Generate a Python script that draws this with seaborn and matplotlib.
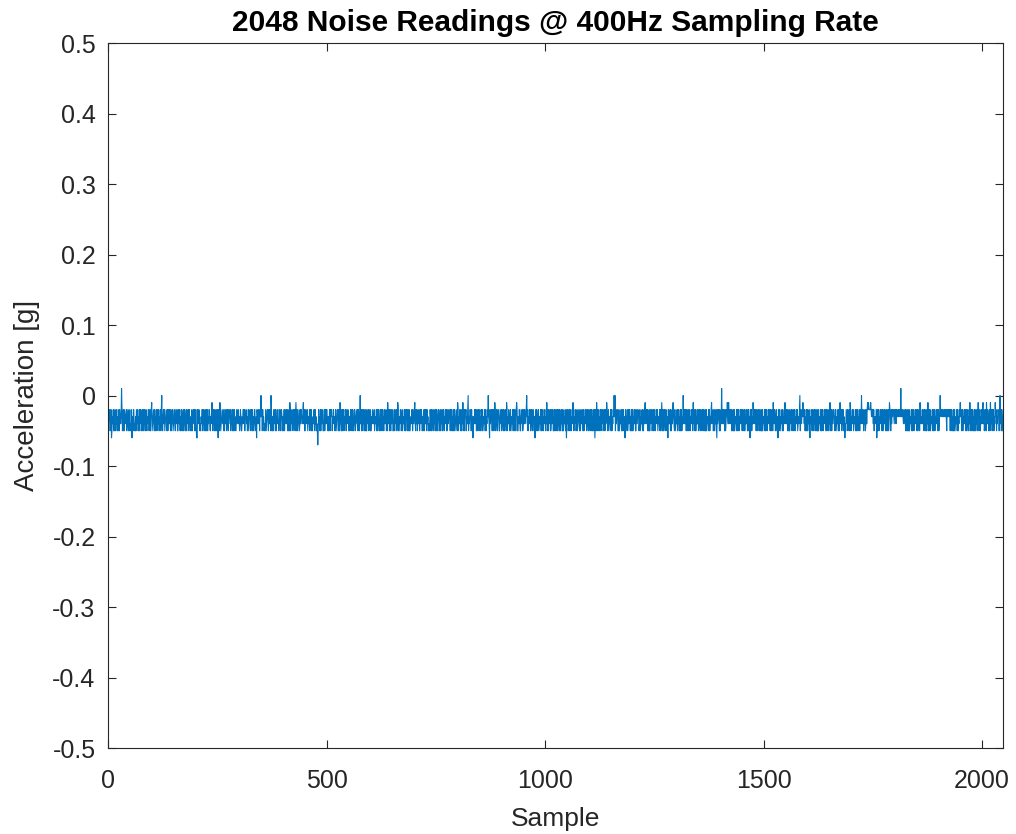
import numpy as np
import pandas as pd
import matplotlib
matplotlib.use("Agg")
import matplotlib.pyplot as plt
import seaborn as sns

# Quantised readings, one character per sample.
# code k -> acceleration (1 - k) / 100 g   ('0' = 0.01, '4' = -0.03, '8' = -0.07)
READING_CODES = [
    "35643463 76453656 36453646 53634540 36536634 54363456 34656357 46336564",
    "63453646 35346536 43635463 56453364 36432654 35636453 64353645 36315643",
    "53654356 36435346 36453654 35634536 64353646 35643653 46536345 36354656",
    "36443536 53677345 34656453 36354636 43636453 35645324 63536463 46347356",
    "23654354 36634536 53463345 36453636 43645634 53354653 46645335 36443546",
    "53654346 35364653 36547345 53463414 36354656 53654346 35346136 46634536",
    "36453356 53463346 46536345 35364636 23645346 53536424 63654365 35344532",
    "53663453 36545363 53656453 36354656 86354636 35436653 64353356 46536343",
    "36453546 53654346 35624563 63536453 46345346 64536436 35653465 34536346",
    "41536346 35364636 63453653 36645345 53654536 36435653 64363546 35453646",
    "24536346 35436653 63453652 36645346 53654536 36434636 53665453 36345325",
    "63536453 36435346 46536353 36354656 53463653 36453636 35643465 36453653",
    "36453536 63453346 35364636 53654356 23645346 36452653 63436453 16453346",
    "36475453 53463653 36436453 63654536 36453414 57354346 35364236 53463346",
    "63453653 36364536 23645346 53654536 36434632 36645346 63453653 35345314",
    "36453536 53463346 47536346 53654536 36436453 36452653 63453653 35364636",
    "53463653 36364536 63654536 47353653 36436453 23645346 53654356 36453346",
    "36453536 53463346 35364636 53753624 36436453 63453653 36354236 53654536",
    "36453414 16354346 63654536 36436457 36453653 53364636 36453536 63453346",
    "53654536 36453245 35364636 63453653 36436453 53654536 36424636 53463346",
    "47354536 36453245 63654536 35364636 36451453 53463653 36436453 53625346",
    "36453536 53463346 35364636 63654536 36453254 36436453 57354346 36450453",
    "53463653 42452453 35364636 63654536 36436453 53463346 36453536 63364736",
    "36452453 53463346 35364636 63654536 36436453 53463653 36245346 53654736",
    "53654536 36453245 35364636 63453653 36436453 53654531 63453424 35364636",
    "36453574 53463346 35364636 63654536 36436453 53463653 36452653 63453346",
    "53654536 36424536 35364575 63453653 36236453 53654536 36436453 63451453",
    "36453653 53232333 32343435 36454537 36436453 53463653 35364636 53652346",
    "35343345 34353443 34343404 34345345 36364636 63654536 36436453 53463653",
    "36245453 53463346 36452653 63654536 36436453 53463653 13434334 43434346",
    "34343436 35364636 63654536 36453424 36436453 53463653 36452653 63364636",
    "36453632 36436453 53253653 36245346 53624536 35364524 36453346 41536346",
]

TITLE = "2048 Noise Readings @ 400Hz Sampling Rate"
X_LABEL = "Sample"
Y_LABEL = "Acceleration [g]"
X_TICKS = [0, 500, 1000, 1500, 2000]
Y_TICKS = [0.5, 0.4, 0.3, 0.2, 0.1, 0.0, -0.1, -0.2, -0.3, -0.4, -0.5]
Y_TICK_LABELS = ["0.5", "0.4", "0.3", "0.2", "0.1", "0", "-0.1", "-0.2", "-0.3", "-0.4", "-0.5"]

codes = "".join("".join(line.split()) for line in READING_CODES)
acceleration = np.array([(1 - int(c)) / 100.0 for c in codes])
sample = np.arange(len(acceleration))
df = pd.DataFrame({"Sample": sample, "Acceleration": acceleration})

sns.set_theme(style="white")
plt.rcParams["font.family"] = ["Liberation Sans", "DejaVu Sans"]
plt.rcParams["axes.unicode_minus"] = False

fig = plt.figure(figsize=(10.16, 8.34), dpi=100)
ax = fig.add_axes([0.1063, 0.1031, 0.8810, 0.8453])

sns.lineplot(data=df, x="Sample", y="Acceleration", ax=ax,
             color="#0072BD", linewidth=0.8, estimator=None)

ax.set_xlim(0, 2048)
ax.set_ylim(-0.5, 0.5)
ax.set_xticks(X_TICKS)
ax.set_xticklabels([str(t) for t in X_TICKS])
ax.set_yticks(Y_TICKS)
ax.set_yticklabels(Y_TICK_LABELS)

dark = "#262626"
for s in ax.spines.values():
    s.set_visible(True)
    s.set_color(dark)
    s.set_linewidth(0.8)
ax.tick_params(axis="both", which="major", direction="in", length=6, width=0.8,
               color=dark, labelcolor=dark, labelsize=18,
               top=True, right=True, bottom=True, left=True)
ax.tick_params(axis="x", pad=15)
ax.tick_params(axis="y", pad=9)

ax.set_xlabel(X_LABEL, fontsize=19, color=dark, labelpad=10)
ax.set_ylabel(Y_LABEL, fontsize=20, color=dark, labelpad=9)
ax.set_title(TITLE, fontsize=21.5, fontweight="bold", color="black", pad=9)
ax.grid(False)

fig.savefig("out.png", dpi=100)
